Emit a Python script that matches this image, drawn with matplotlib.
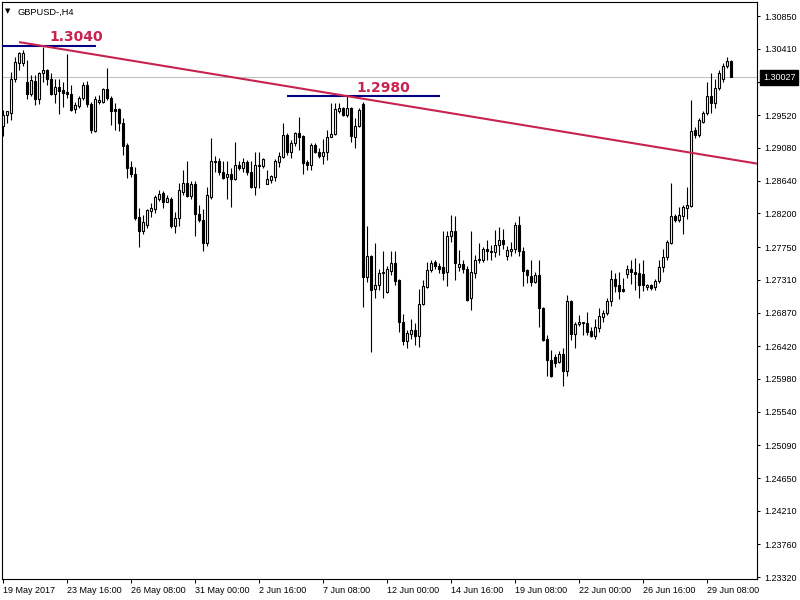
import matplotlib
matplotlib.use("Agg")
import matplotlib.pyplot as plt
import matplotlib.transforms as mtransforms
import numpy as np

plt.rcParams["font.family"] = ["Liberation Sans", "DejaVu Sans"]

SYMBOL = "GBPUSD-,H4"

# H4 candles, 19 May 2017 00:00 onward
opens = [
    1.2937, 1.2952, 1.2955, 1.3001, 1.3022, 1.3022, 1.2997, 1.2980, 1.2998, 1.2973,
    1.3009, 1.3013, 1.3000, 1.2981, 1.2990, 1.2986, 1.2983, 1.2980, 1.2960, 1.2964,
    1.2975, 1.2992, 1.2967, 1.2931, 1.2970, 1.2970, 1.2987, 1.2975, 1.2960, 1.2960,
    1.2942, 1.2912, 1.2882, 1.2873, 1.2815, 1.2796, 1.2805, 1.2824, 1.2826, 1.2839,
    1.2847, 1.2836, 1.2840, 1.2803, 1.2814, 1.2849, 1.2861, 1.2843, 1.2860, 1.2819,
    1.2811, 1.2781, 1.2842, 1.2891, 1.2891, 1.2876, 1.2869, 1.2873, 1.2866, 1.2885,
    1.2881, 1.2889, 1.2876, 1.2856, 1.2884, 1.2884, 1.2860, 1.2865, 1.2869, 1.2889,
    1.2896, 1.2925, 1.2903, 1.2914, 1.2928, 1.2924, 1.2889, 1.2885, 1.2912, 1.2903,
    1.2897, 1.2903, 1.2923, 1.2926, 1.2957, 1.2961, 1.2952, 1.2961, 1.2923, 1.2937,
    1.2967, 1.2735, 1.2763, 1.2718, 1.2724, 1.2740, 1.2714, 1.2743, 1.2754, 1.2731,
    1.2675, 1.2649, 1.2658, 1.2664, 1.2655, 1.2699, 1.2722, 1.2744, 1.2755, 1.2749,
    1.2748, 1.2742, 1.2790, 1.2796, 1.2748, 1.2752, 1.2746, 1.2706, 1.2740, 1.2757,
    1.2758, 1.2773, 1.2770, 1.2768, 1.2778, 1.2784, 1.2763, 1.2769, 1.2772, 1.2805,
    1.2770, 1.2744, 1.2736, 1.2728, 1.2737, 1.2693, 1.2651, 1.2624, 1.2628, 1.2621,
    1.2631, 1.2608, 1.2702, 1.2658, 1.2672, 1.2675, 1.2673, 1.2662, 1.2656, 1.2666,
    1.2681, 1.2686, 1.2702, 1.2732, 1.2724, 1.2718, 1.2739, 1.2745, 1.2742, 1.2740,
    1.2739, 1.2722, 1.2724, 1.2721, 1.2730, 1.2748, 1.2761, 1.2781, 1.2817, 1.2811,
    1.2817, 1.2828, 1.2830, 1.2932, 1.2925, 1.2943, 1.2955, 1.2977, 1.2968, 1.2988,
    1.3000, 1.3018, 1.3025,
]
highs = [
    1.2959, 1.2958, 1.3010, 1.3030, 1.3037, 1.3040, 1.3026, 1.3006, 1.3006, 1.3010,
    1.3044, 1.3014, 1.3008, 1.3001, 1.3001, 1.2997, 1.3034, 1.2992, 1.2970, 1.2978,
    1.2997, 1.2998, 1.2969, 1.2977, 1.2979, 1.2988, 1.3015, 1.2978, 1.2968, 1.2961,
    1.2948, 1.2914, 1.2890, 1.2883, 1.2827, 1.2818, 1.2826, 1.2834, 1.2845, 1.2852,
    1.2850, 1.2845, 1.2842, 1.2822, 1.2861, 1.2879, 1.2890, 1.2863, 1.2863, 1.2831,
    1.2826, 1.2856, 1.2921, 1.2897, 1.2894, 1.2890, 1.2890, 1.2881, 1.2916, 1.2890,
    1.2894, 1.2892, 1.2890, 1.2903, 1.2903, 1.2894, 1.2878, 1.2872, 1.2893, 1.2903,
    1.2942, 1.2928, 1.2919, 1.2930, 1.2950, 1.2925, 1.2892, 1.2914, 1.2914, 1.2908,
    1.2920, 1.2932, 1.2968, 1.2968, 1.2968, 1.2963, 1.2979, 1.2963, 1.2948, 1.2961,
    1.2970, 1.2803, 1.2764, 1.2780, 1.2746, 1.2770, 1.2749, 1.2769, 1.2769, 1.2732,
    1.2685, 1.2664, 1.2679, 1.2673, 1.2718, 1.2731, 1.2755, 1.2758, 1.2757, 1.2754,
    1.2796, 1.2796, 1.2818, 1.2817, 1.2771, 1.2758, 1.2749, 1.2796, 1.2764, 1.2780,
    1.2775, 1.2784, 1.2778, 1.2798, 1.2802, 1.2799, 1.2776, 1.2782, 1.2809, 1.2816,
    1.2775, 1.2746, 1.2758, 1.2742, 1.2758, 1.2695, 1.2657, 1.2637, 1.2632, 1.2635,
    1.2639, 1.2711, 1.2704, 1.2675, 1.2684, 1.2675, 1.2688, 1.2668, 1.2679, 1.2693,
    1.2690, 1.2706, 1.2744, 1.2740, 1.2742, 1.2733, 1.2751, 1.2758, 1.2760, 1.2753,
    1.2758, 1.2726, 1.2725, 1.2732, 1.2758, 1.2773, 1.2784, 1.2861, 1.2819, 1.2829,
    1.2831, 1.2856, 1.2972, 1.2936, 1.2948, 1.2957, 1.2996, 1.3008, 1.3001, 1.3013,
    1.3022, 1.3030, 1.3026,
]
lows = [
    1.2924, 1.2942, 1.2945, 1.2997, 1.3013, 1.3018, 1.2973, 1.2977, 1.2966, 1.2967,
    1.2996, 1.2992, 1.2979, 1.2968, 1.2954, 1.2963, 1.2975, 1.2957, 1.2955, 1.2961,
    1.2972, 1.2963, 1.2928, 1.2930, 1.2967, 1.2968, 1.2972, 1.2939, 1.2932, 1.2931,
    1.2899, 1.2867, 1.2869, 1.2811, 1.2775, 1.2793, 1.2800, 1.2815, 1.2820, 1.2837,
    1.2828, 1.2835, 1.2800, 1.2794, 1.2803, 1.2845, 1.2842, 1.2840, 1.2790, 1.2809,
    1.2769, 1.2776, 1.2840, 1.2876, 1.2872, 1.2866, 1.2840, 1.2829, 1.2865, 1.2878,
    1.2876, 1.2872, 1.2854, 1.2845, 1.2854, 1.2881, 1.2859, 1.2861, 1.2863, 1.2883,
    1.2894, 1.2899, 1.2894, 1.2910, 1.2905, 1.2873, 1.2878, 1.2878, 1.2901, 1.2894,
    1.2887, 1.2892, 1.2922, 1.2925, 1.2955, 1.2951, 1.2950, 1.2916, 1.2908, 1.2936,
    1.2695, 1.2728, 1.2634, 1.2706, 1.2717, 1.2706, 1.2713, 1.2737, 1.2724, 1.2661,
    1.2643, 1.2639, 1.2652, 1.2643, 1.2641, 1.2697, 1.2720, 1.2742, 1.2745, 1.2740,
    1.2731, 1.2723, 1.2782, 1.2731, 1.2743, 1.2740, 1.2703, 1.2690, 1.2733, 1.2754,
    1.2755, 1.2758, 1.2758, 1.2762, 1.2764, 1.2772, 1.2758, 1.2763, 1.2767, 1.2763,
    1.2723, 1.2727, 1.2723, 1.2727, 1.2668, 1.2649, 1.2602, 1.2601, 1.2614, 1.2619,
    1.2588, 1.2602, 1.2650, 1.2639, 1.2669, 1.2657, 1.2657, 1.2654, 1.2652, 1.2661,
    1.2675, 1.2684, 1.2696, 1.2714, 1.2705, 1.2715, 1.2733, 1.2726, 1.2717, 1.2706,
    1.2716, 1.2717, 1.2717, 1.2717, 1.2727, 1.2742, 1.2758, 1.2779, 1.2808, 1.2808,
    1.2793, 1.2812, 1.2829, 1.2921, 1.2922, 1.2942, 1.2952, 1.2955, 1.2962, 1.2986,
    1.2996, 1.3015, 1.30027,
]
closes = [
    1.2952, 1.2957, 1.3001, 1.3023, 1.3035, 1.3036, 1.2981, 1.2999, 1.2973, 1.3008,
    1.3013, 1.3000, 1.2981, 1.2990, 1.2985, 1.2982, 1.2980, 1.2959, 1.2966, 1.2975,
    1.2992, 1.2967, 1.2932, 1.2973, 1.2972, 1.2987, 1.2975, 1.2958, 1.2958, 1.2942,
    1.2910, 1.2881, 1.2873, 1.2814, 1.2796, 1.2808, 1.2825, 1.2828, 1.2842, 1.2846,
    1.2836, 1.2841, 1.2803, 1.2814, 1.2851, 1.2861, 1.2844, 1.2860, 1.2819, 1.2811,
    1.2781, 1.2845, 1.2891, 1.2889, 1.2875, 1.2867, 1.2873, 1.2866, 1.2885, 1.2881,
    1.2889, 1.2875, 1.2856, 1.2885, 1.2885, 1.2893, 1.2866, 1.2870, 1.2891, 1.2897,
    1.2925, 1.2903, 1.2915, 1.2928, 1.2923, 1.2888, 1.2885, 1.2912, 1.2902, 1.2897,
    1.2903, 1.2923, 1.2926, 1.2960, 1.2961, 1.2952, 1.2961, 1.2924, 1.2937, 1.2959,
    1.2735, 1.2763, 1.2717, 1.2724, 1.2740, 1.2742, 1.2746, 1.2753, 1.2730, 1.2675,
    1.2649, 1.2660, 1.2664, 1.2655, 1.2699, 1.2723, 1.2744, 1.2754, 1.2749, 1.2746,
    1.2740, 1.2790, 1.2796, 1.2753, 1.2752, 1.2746, 1.2704, 1.2741, 1.2758, 1.2759,
    1.2773, 1.2769, 1.2768, 1.2778, 1.2784, 1.2779, 1.2771, 1.2772, 1.2805, 1.2769,
    1.2743, 1.2737, 1.2728, 1.2737, 1.2693, 1.2650, 1.2624, 1.2602, 1.2620, 1.2631,
    1.2608, 1.2702, 1.2658, 1.2672, 1.2675, 1.2673, 1.2661, 1.2656, 1.2667, 1.2682,
    1.2686, 1.2702, 1.2732, 1.2723, 1.2716, 1.2716, 1.2745, 1.2742, 1.2739, 1.2724,
    1.2724, 1.2724, 1.2720, 1.2730, 1.2748, 1.2761, 1.2782, 1.2816, 1.2811, 1.2818,
    1.2829, 1.2831, 1.2931, 1.2925, 1.2945, 1.2955, 1.2977, 1.2968, 1.2988, 1.3009,
    1.3018, 1.3025, 1.30027,
]

date_labels = ["19 May 2017", "23 May 16:00", "26 May 08:00", "31 May 00:00",
               "2 Jun 16:00", "7 Jun 08:00", "12 Jun 00:00", "14 Jun 16:00",
               "19 Jun 08:00", "22 Jun 00:00", "26 Jun 16:00", "29 Jun 08:00"]
price_ticks = [1.30850, 1.30410, 1.29970, 1.29520, 1.29080, 1.28640, 1.28200,
               1.27750, 1.27310, 1.26870, 1.26420, 1.25980, 1.25540, 1.25090,
               1.24650, 1.24210, 1.23760, 1.23320]
last_price = 1.30027

trend_x = [4, 90]
trend_y = [1.3050, 1.2974]
level_prices = [1.3045, 1.2978]
level_texts = ["1.3040", "1.2980"]

RED = "#c8234f"
NAVY = "#000080"

fig = plt.figure(figsize=(8, 6), dpi=100)
ax = fig.add_axes([2 / 800, 21 / 600, 755 / 800, 577 / 600])
x_lo, x_hi = -0.25, 188.5
ax.set_xlim(x_lo, x_hi)
ax.set_ylim(1.23295, 1.31038)

o = np.array(opens)
h = np.array(highs)
l = np.array(lows)
c = np.array(closes)
x = np.arange(len(o))
up = c >= o
body_lo = np.minimum(o, c)
body_h = np.abs(c - o)

ax.axhline(last_price, color="#c0c0c0", lw=0.75, zorder=1)
ax.vlines(x, l, h, color="black", lw=0.8, zorder=3)
ax.bar(x[up], body_h[up], bottom=body_lo[up], width=0.55, color="white",
       edgecolor="black", lw=0.8, zorder=4)
ax.bar(x[~up], body_h[~up], bottom=body_lo[~up], width=0.55, color="black",
       edgecolor="black", lw=0.8, zorder=4)

# horizontal levels + their labels
ax.hlines(level_prices[0], x_lo - 1, 23.25, color=NAVY, lw=1.5, zorder=5)
ax.hlines(level_prices[1], 71.1, 109.25, color=NAVY, lw=1.5, zorder=5)
ax.text(11.5, 1.30572, level_texts[0], color=RED, fontsize=10, fontweight="bold",
        family="DejaVu Sans", ha="left", va="center", zorder=7)
ax.text(88.4, 1.29888, level_texts[1], color=RED, fontsize=10, fontweight="bold",
        family="DejaVu Sans", ha="left", va="center", zorder=7)

# trend line (ray to the right edge)
slope = (trend_y[1] - trend_y[0]) / (trend_x[1] - trend_x[0])
ax.plot([trend_x[0], x_hi], [trend_y[0], trend_y[0] + slope * (x_hi - trend_x[0])],
        color=RED, lw=1.5, zorder=6, solid_capstyle="butt")

# axes styling
for sp in ax.spines.values():
    sp.set_linewidth(0.8)
    sp.set_color("black")
ax.yaxis.tick_right()
ax.set_yticks(price_ticks)
ax.set_yticklabels([f"{v:.5f}" for v in price_ticks])
ax.tick_params(axis="y", direction="out", length=2.5, width=0.75, pad=2.5, labelsize=6.5)
ax.set_xticks(np.arange(len(date_labels)) * 16)
ax.set_xticklabels(date_labels)
for t in ax.get_xticklabels():
    t.set_ha("left")
ax.tick_params(axis="x", direction="out", length=3, width=0.75, pad=2, labelsize=6.5)

# current price marker on the price scale
trans = mtransforms.blended_transform_factory(ax.transAxes, ax.transData)
ax.text(1.0 + 6 / 755, last_price, f"{last_price:.5f}", transform=trans, color="white",
        fontsize=6.5, ha="left", va="center", zorder=10, clip_on=False,
        bbox=dict(boxstyle="square,pad=0.3", facecolor="black", edgecolor="black"))

fig.text(8 / 800, 1 - 11 / 600, "\u25bc", fontsize=5, family="DejaVu Sans",
         ha="center", va="center")
fig.text(18 / 800, 1 - 12 / 600, SYMBOL, fontsize=6.7, ha="left", va="center")

fig.savefig("out.png", dpi=100)
